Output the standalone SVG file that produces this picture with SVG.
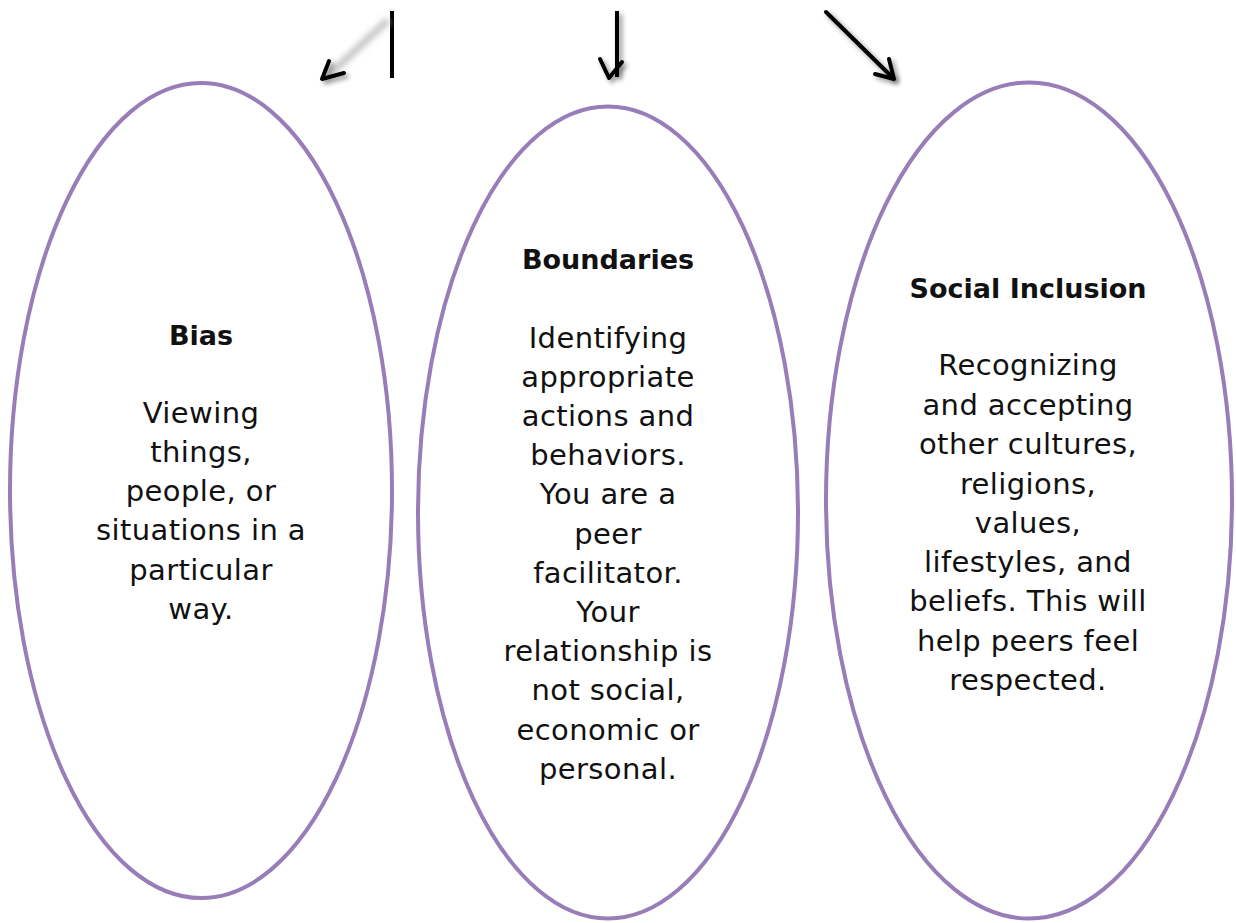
<svg xmlns="http://www.w3.org/2000/svg" width="1236" height="923" viewBox="0 0 1236 923">
<style>
.oval{fill:none;stroke:#987db8;stroke-width:4}
.t{font-family:"DejaVu Sans",sans-serif;font-size:29px;fill:#111;text-anchor:middle;letter-spacing:0.4px}
.h{font-family:"DejaVu Sans",sans-serif;font-size:27px;font-weight:bold;fill:#111;text-anchor:middle}
.ar{fill:none;stroke:#000;stroke-width:4;stroke-linecap:round;stroke-linejoin:round}
</style>
<defs>
<filter id="sh" filterUnits="userSpaceOnUse" x="0" y="0" width="1236" height="200">
<feGaussianBlur in="SourceAlpha" stdDeviation="2.5"/>
<feOffset dx="3" dy="3"/>
<feComponentTransfer><feFuncA type="linear" slope="0.45"/></feComponentTransfer>
<feMerge><feMergeNode/><feMergeNode in="SourceGraphic"/></feMerge>
</filter>
<filter id="blur" filterUnits="userSpaceOnUse" x="0" y="0" width="1236" height="200">
<feGaussianBlur stdDeviation="3"/>
</filter>
</defs>
<g id="connectors">
<rect x="390" y="11" width="4" height="67" fill="#000"/>
<line x1="388" y1="20" x2="328" y2="76" stroke="#bbb" stroke-width="6" filter="url(#blur)"/>
<polyline class="ar" points="329,61 322,79 344,73" filter="url(#sh)"/>
<rect x="615" y="11" width="4" height="66" fill="#000" filter="url(#sh)"/>
<polyline class="ar" points="600,59 609,78 622,62" filter="url(#sh)"/>
<line x1="826" y1="12" x2="893" y2="78" class="ar" filter="url(#sh)"/>
<polyline class="ar" points="889,59 894,79 875,74" filter="url(#sh)"/>
</g>
<g id="bias">
<ellipse class="oval" cx="201" cy="490.5" rx="191" ry="407.5"/>
<text class="h" x="201" y="345">Bias</text>
<text class="t" x="201" y="423">Viewing</text>
<text class="t" x="201" y="462">things,</text>
<text class="t" x="201" y="501">people, or</text>
<text class="t" x="201" y="540">situations in a</text>
<text class="t" x="201" y="580">particular</text>
<text class="t" x="201" y="619">way.</text>
</g>
<g id="boundaries">
<ellipse class="oval" cx="608" cy="512.5" rx="190" ry="406"/>
<text class="h" x="608" y="269">Boundaries</text>
<text class="t" x="608" y="348">Identifying</text>
<text class="t" x="608" y="387">appropriate</text>
<text class="t" x="608" y="426">actions and</text>
<text class="t" x="608" y="465">behaviors.</text>
<text class="t" x="608" y="504">You are a</text>
<text class="t" x="608" y="544">peer</text>
<text class="t" x="608" y="583">facilitator.</text>
<text class="t" x="608" y="622">Your</text>
<text class="t" x="608" y="661">relationship is</text>
<text class="t" x="608" y="700">not social,</text>
<text class="t" x="608" y="740">economic or</text>
<text class="t" x="608" y="779">personal.</text>
</g>
<g id="social-inclusion">
<ellipse class="oval" cx="1029" cy="500.5" rx="203" ry="418"/>
<text class="h" x="1028" y="298">Social Inclusion</text>
<text class="t" x="1028" y="375">Recognizing</text>
<text class="t" x="1028" y="415">and accepting</text>
<text class="t" x="1028" y="454">other cultures,</text>
<text class="t" x="1028" y="494">religions,</text>
<text class="t" x="1028" y="533">values,</text>
<text class="t" x="1028" y="572">lifestyles, and</text>
<text class="t" x="1028" y="611">beliefs. This will</text>
<text class="t" x="1028" y="651">help peers feel</text>
<text class="t" x="1028" y="690">respected.</text>
</g>
</svg>
